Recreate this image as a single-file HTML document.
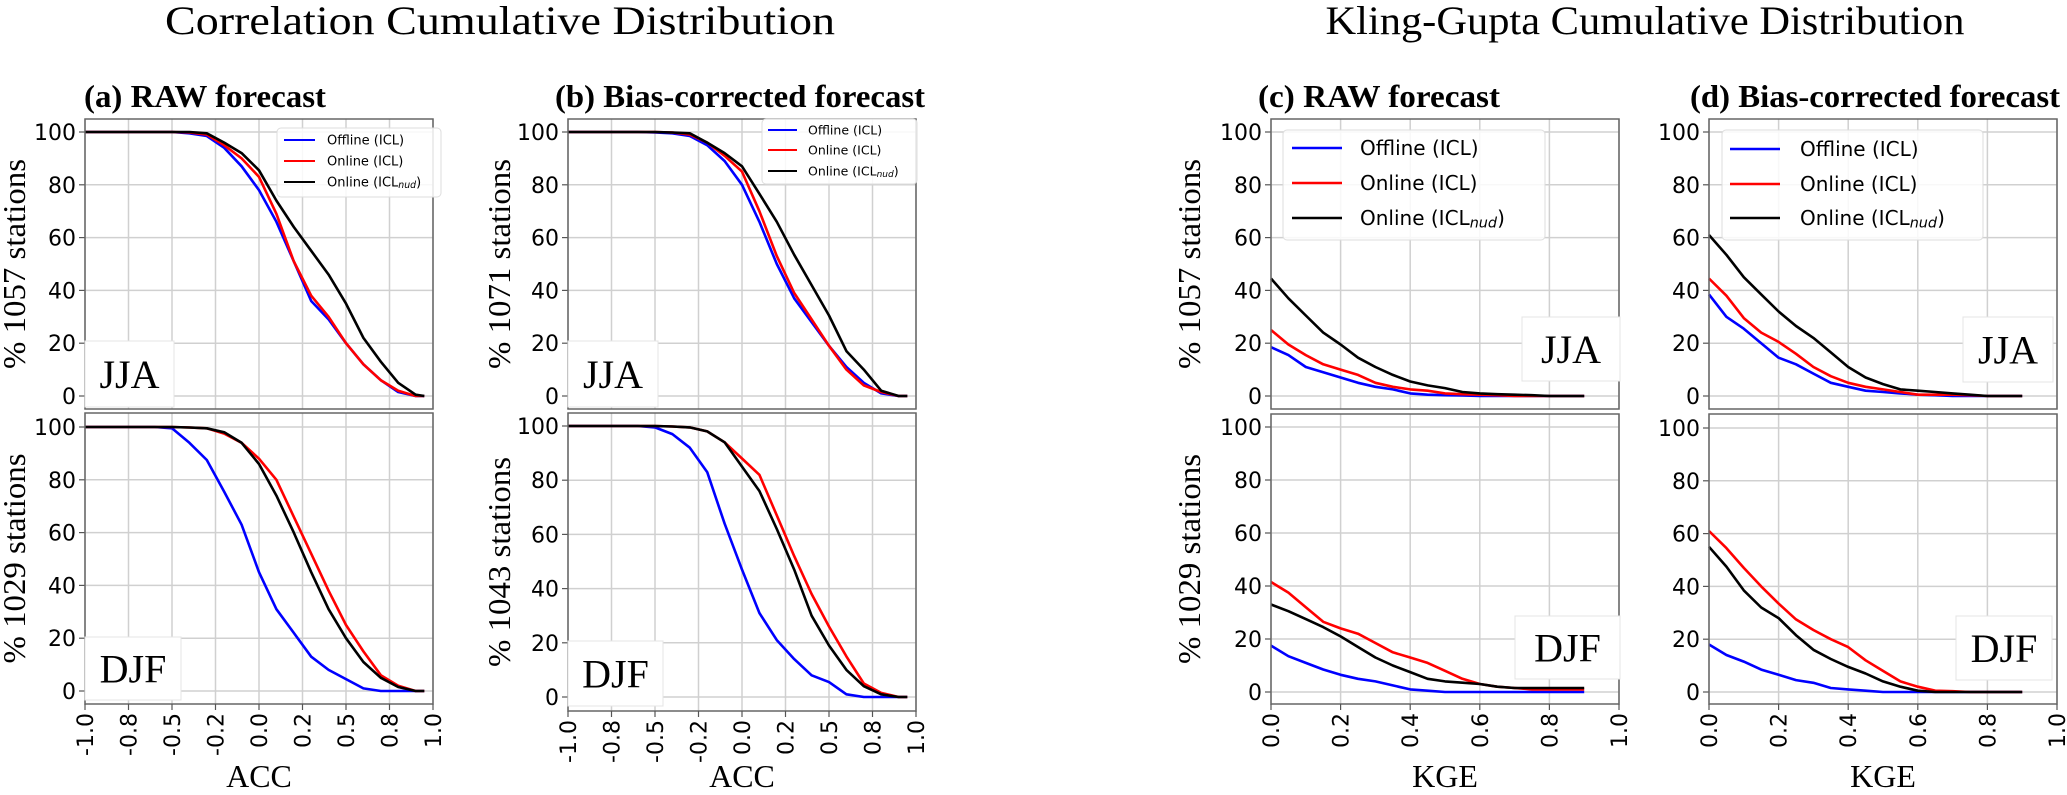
<!DOCTYPE html>
<html><head><meta charset="utf-8">
<style>
html,body{margin:0;padding:0;background:#fff;}
svg{display:block;}
</style></head>
<body>
<svg id="fig" width="2067" height="795" viewBox="0 0 2067 795" xmlns="http://www.w3.org/2000/svg">
<text x="500" y="34" text-anchor="middle" font-family="Liberation Serif, serif" font-size="40" textLength="670" lengthAdjust="spacingAndGlyphs">Correlation Cumulative Distribution</text>
<text x="1645" y="34" text-anchor="middle" font-family="Liberation Serif, serif" font-size="40" textLength="639" lengthAdjust="spacingAndGlyphs">Kling-Gupta Cumulative Distribution</text>
<g id="plots"></g>
</svg>
<script>
// ACC x grid (shared by panels a, b)
const accX = [-1,-0.6,-0.5,-0.4,-0.3,-0.2,-0.1,0,0.1,0.2,0.3,0.4,0.5,0.6,0.7,0.8,0.9,0.95];
// KGE x grid (shared by panels c, d)
const kgeX = [0,0.05,0.1,0.15,0.2,0.25,0.3,0.35,0.4,0.45,0.5,0.55,0.6,0.65,0.7,0.75,0.8,0.85,0.9];
const accTicks = [-1,-0.75,-0.5,-0.25,0,0.25,0.5,0.75,1];
const accTickLabels = ["-1.0","-0.8","-0.5","-0.2","0.0","0.2","0.5","0.8","1.0"];
const kgeTicks = [0,0.2,0.4,0.6,0.8,1.0];
const kgeTickLabels = ["0.0","0.2","0.4","0.6","0.8","1.0"];
const yTicks = [0,20,40,60,80,100];
const legendLabels = ["Offline (ICL)","Online (ICL)","Online (ICL"];

// (a) RAW ACC
const aJJAoffline = [100,100,100,99.5,98.5,94,87,78,66,51,36,29,20,12,6,1.5,0,0];
const aJJAonline  = [100,100,100,99.8,99,95,90,83,69,51,38,30,20,12,6,2,0,0];
const aJJAnud     = [100,100,100,100,99.5,96,92,85.5,74,64,55,46,35,22,13,5,0.5,0];
const aDJFoffline = [100,100,99.5,94,87.5,75.5,63,45,31,22,13,8,4.5,1,0,0,0,0];
const aDJFonline  = [100,100,100,99.8,99.5,97.5,94,88,80,66,52,38,25,15,6,2,0,0];
const aDJFnud     = [100,100,100,99.8,99.5,98,94,86,74,60,45,31,20,11,5,1.5,0,0];
// (b) Bias-corrected ACC
const bJJAoffline = [100,100,99.8,99.5,98.5,95,89,80,66,50,37,28,19,11,5,1,0,0];
const bJJAonline  = [100,100,100,99.8,99,96,91,85,70,53,39,29,19,10,4,1.5,0,0];
const bJJAnud     = [100,100,100,99.8,99.5,96,92,87,76.6,66,53.5,42,30.5,17,10,2,0,0];
const bDJFoffline = [100,100,99.5,97,92,83,64,47,31,21,14,8,5.5,1,0,0,0,0];
const bDJFonline  = [100,100,100,99.8,99.5,98,94,88,82,67,52,38,26,15,5,1.5,0,0];
const bDJFnud     = [100,100,100,99.8,99.5,98,94,85,76,62,47,30,19,10,4,1,0,0];
// (c) RAW KGE
const cJJAoffline = [18.5,15.5,11,9,7,5,3.5,2.5,1,0.5,0.3,0.2,0,0,0,0,0,0,0];
const cJJAonline  = [25,19.5,15.5,12,10,8,5,3.5,2.5,2,1,0.7,0.5,0.3,0,0,0,0,0];
const cJJAnud     = [44.5,37,30.5,24,19.5,14.5,11,8,5.5,4,3,1.5,1,0.7,0.5,0.3,0,0,0];
const cDJFoffline = [17.5,13.5,11,8.5,6.5,5,4,2.5,1,0.5,0,0,0,0,0,0,0,0,0];
const cDJFonline  = [41.5,37.5,32,26.5,24,22,18.5,15,13,11,8,5,3,2,1.5,1,1,1,1];
const cDJFnud     = [33,30.5,27.5,24.5,21,17,13,10,7.5,5,4,3.5,3,2,1.5,1.5,1.5,1.5,1.5];
// (d) Bias-corrected KGE
const dJJAoffline = [38.5,30,25.5,20,14.5,12,8.5,5,3.5,2,1.5,1,0.5,0.3,0,0,0,0,0];
const dJJAonline  = [44.5,38,29.5,24,20.5,16,11,7.5,5,3.5,2.5,1.5,0.5,0.5,0.5,0.3,0,0,0];
const dJJAnud     = [61,53.5,45,38.5,32,26.5,22,16.5,11,7,4.5,2.5,2,1.5,1,0.5,0,0,0];
const dDJFoffline = [18,14,11.5,8.5,6.5,4.5,3.5,1.5,1,0.5,0,0,0,0,0,0,0,0,0];
const dDJFonline  = [61,54.5,47,40,33.5,27.5,23.5,20,17,12,8,4,2,0.5,0.3,0,0,0,0];
const dDJFnud     = [55,47.5,38.5,32,28,21.5,16,12.5,9.5,7,4,2,0.5,0,0,0,0,0,0];

const NS = "http://www.w3.org/2000/svg";
const root = document.getElementById('plots');
function mk(tag, attrs, parent){
  const e = document.createElementNS(NS, tag);
  for (const k in attrs) e.setAttribute(k, attrs[k]);
  (parent||root).appendChild(e);
  return e;
}
const colors = ["#0000ff","#ff0000","#000000"];

const panels = [
 {id:'a', title:'(a) RAW forecast', tx:84, tl:242, L:85, R:433, xmin:-1, xmax:1, xs:accX, ticks:accTicks, tlabels:accTickLabels, xlabel:'ACC', ylx:25,
  yl:['% 1057 stations','% 1029 stations'], leg:{x:277,y:128,w:164,h:69,fs:13,line:[284,315],tx:327,rows:[140,161,182]},
  sub:[{top:119,bot:409,y100:132,y0:396,season:'JJA',box:[85,341,89,66],series:[aJJAoffline,aJJAonline,aJJAnud]},
       {top:413,bot:704,y100:427,y0:691,season:'DJF',box:[85,637,96,63],series:[aDJFoffline,aDJFonline,aDJFnud]}]},
 {id:'b', title:'(b) Bias-corrected forecast', tx:555, tl:370, L:568, R:916, xmin:-1, xmax:1, xs:accX, ticks:accTicks, tlabels:accTickLabels, xlabel:'ACC', ylx:510,
  yl:['% 1071 stations','% 1043 stations'], leg:{x:762,y:119,w:155,h:65,fs:12.5,line:[768,797],tx:808,rows:[130,150,171]},
  sub:[{top:119,bot:409,y100:132,y0:396,season:'JJA',box:[568,341,90,66],series:[bJJAoffline,bJJAonline,bJJAnud]},
       {top:413,bot:711,y100:426,y0:697,season:'DJF',box:[568,641,95,65],series:[bDJFoffline,bDJFonline,bDJFnud]}]},
 {id:'c', title:'(c) RAW forecast', tx:1258, tl:242, L:1271, R:1619, xmin:0, xmax:1, xs:kgeX, ticks:kgeTicks, tlabels:kgeTickLabels, xlabel:'KGE', ylx:1200,
  yl:['% 1057 stations','% 1029 stations'], leg:{x:1283,y:130,w:262,h:110,fs:20,line:[1292,1342],tx:1360,rows:[148,183,218]},
  sub:[{top:119,bot:409,y100:132,y0:396,season:'JJA',box:[1522,317,98,64],series:[cJJAoffline,cJJAonline,cJJAnud]},
       {top:414,bot:704,y100:427,y0:692,season:'DJF',box:[1515,616,105,63],series:[cDJFoffline,cDJFonline,cDJFnud]}]},
 {id:'d', title:'(d) Bias-corrected forecast', tx:1690, tl:370, L:1709, R:2057, xmin:0, xmax:1, xs:kgeX, ticks:kgeTicks, tlabels:kgeTickLabels, xlabel:'KGE', ylx:null,
  yl:[], leg:{x:1722,y:130,w:261,h:110,fs:20,line:[1730,1780],tx:1800,rows:[149,184,218]},
  sub:[{top:119,bot:409,y100:132,y0:396,season:'JJA',box:[1963,317,90,65],series:[dJJAoffline,dJJAonline,dJJAnud]},
       {top:414,bot:704,y100:428,y0:692,season:'DJF',box:[1956,616,96,64],series:[dDJFoffline,dDJFonline,dDJFnud]}]}
];
const seriesNames = ['offline-icl','online-icl','online-icl-nud'];

panels.forEach(p => {
  const g = mk('g', {});
  
  
  const xs = v => p.L + (v - p.xmin) / (p.xmax - p.xmin) * (p.R - p.L);
  const t = mk('text', {x:p.tx, y:107, 'font-family':'Liberation Serif, serif', 'font-weight':'bold', 'font-size':32, textLength:p.tl, lengthAdjust:'spacingAndGlyphs'}, g);
  t.textContent = p.title;
  
  

  p.sub.forEach((s, si) => {
    const ys = v => s.y0 + (v / 100) * (s.y100 - s.y0);
    const sg = mk('g', {}, g);
    
    
    p.ticks.forEach(tv => {
      const gl = mk('line', {x1:xs(tv), x2:xs(tv), y1:s.top, y2:s.bot, stroke:'#d0d0d0', 'stroke-width':1.5}, sg);
      
      
    });
    yTicks.forEach(tv => {
      const gl = mk('line', {x1:p.L, x2:p.R, y1:ys(tv), y2:ys(tv), stroke:'#d0d0d0', 'stroke-width':1.5}, sg);
      
      
      const tk = mk('line', {x1:p.L-6, x2:p.L, y1:ys(tv), y2:ys(tv), stroke:'#555', 'stroke-width':1.2}, sg);
      
      
      const lb = mk('text', {x:p.L-9, y:ys(tv)+8, 'text-anchor':'end', 'font-family':'DejaVu Sans, sans-serif', 'font-size':22}, sg);
      lb.textContent = String(tv);
      
      
    });
    s.series.forEach((arr, k) => {
      const d = arr.map((v, i) => (i ? 'L' : 'M') + xs(p.xs[i]).toFixed(1) + ',' + ys(v).toFixed(1)).join(' ');
      const path = mk('path', {d:d, fill:'none', stroke:colors[k], 'stroke-width':2.6, 'stroke-linejoin':'round'}, sg);
      
      
    });
    const fr = mk('rect', {x:p.L, y:s.top, width:p.R-p.L, height:s.bot-s.top, fill:'none', stroke:'#666', 'stroke-width':1.5}, sg);
    
    
    const b = s.box;
    const sb = mk('rect', {x:b[0], y:b[1], width:b[2], height:b[3], fill:'#fff', stroke:'#e4e4e4', 'stroke-width':1}, sg);
    
    
    const st = mk('text', {x:b[0]+b[2]/2, y:b[1]+b[3]/2+14, 'text-anchor':'middle', 'font-family':'Liberation Serif, serif', 'font-size':40}, sg);
    st.textContent = s.season;
    
    
    if (p.yl[si]) {
      const cy = (s.top + s.bot) / 2;
      const yl = mk('text', {x:p.ylx, y:cy, 'text-anchor':'middle', 'font-family':'Liberation Serif, serif', 'font-size':32, transform:'rotate(-90 ' + p.ylx + ' ' + cy + ')', textLength:210, lengthAdjust:'spacingAndGlyphs'}, sg);
      yl.textContent = p.yl[si];
      
      
    }
    if (si === 1) {
      p.ticks.forEach((tv, i) => {
        const tk = mk('line', {x1:xs(tv), x2:xs(tv), y1:s.bot, y2:s.bot+6, stroke:'#555', 'stroke-width':1.2}, sg);
        
        
        const tx = xs(tv) + 8, ty = s.bot + 9;
        const lb = mk('text', {x:tx, y:ty, 'text-anchor':'end', 'font-family':'DejaVu Sans, sans-serif', 'font-size':22, transform:'rotate(-90 ' + tx + ' ' + ty + ')'}, sg);
        lb.textContent = p.tlabels[i];
        
        
      });
      const xl = mk('text', {x:(p.L+p.R)/2, y:787, 'text-anchor':'middle', 'font-family':'Liberation Serif, serif', 'font-size':32}, sg);
      xl.textContent = p.xlabel;
      
      
    }
  });
  const lg = p.leg;
  const leg = mk('g', {}, g);
  
  
  mk('rect', {x:lg.x, y:lg.y, width:lg.w, height:lg.h, rx:4, fill:'#fff', 'fill-opacity':0.85, stroke:'#dddddd', 'stroke-width':1}, leg);
  legendLabels.forEach((lab, k) => {
    const e = mk('g', {}, leg);
    
    
    mk('line', {x1:lg.line[0], x2:lg.line[1], y1:lg.rows[k], y2:lg.rows[k], stroke:colors[k], 'stroke-width':lg.fs>15?2.6:2}, e);
    const tt = mk('text', {x:lg.tx, y:lg.rows[k] + lg.fs*0.36, 'font-family':'DejaVu Sans, sans-serif', 'font-size':lg.fs}, e);
    tt.textContent = lab;
    if (k === 2) {
      const sub = mk('tspan', {'font-style':'italic', 'font-size':lg.fs*0.72, dy:lg.fs*0.12}, tt);
      sub.textContent = 'nud';
      const cl = mk('tspan', {dy:-lg.fs*0.12}, tt);
      cl.textContent = ')';
    }
  });
});
</script>
</body></html>
